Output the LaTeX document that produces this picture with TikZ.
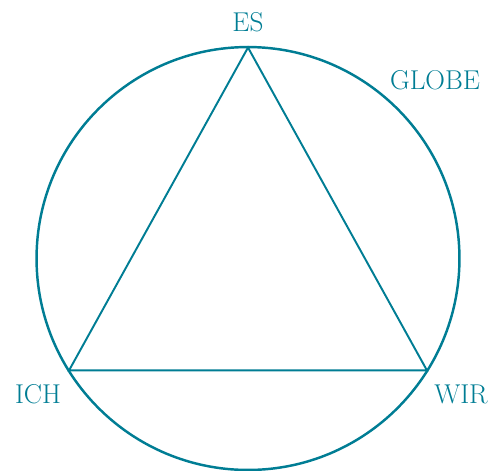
\documentclass[tikz,border=0pt]{standalone}
\usepackage{tikz}
\usetikzlibrary{positioning, calc}
\definecolor{globeteal}{RGB}{0,125,148}

\begin{document}
\begin{tikzpicture}[
    x=0.02cm, y=-0.02cm,
    lbl/.style={text=globeteal, font=\fontsize{15.5}{17}\selectfont, inner sep=0pt},
    rim/.style={draw=globeteal, line width=1.4pt},
    edge/.style={draw=globeteal, line width=1.1pt, line join=miter}
]
\useasboundingbox (0,0) rectangle (492,470);
\coordinate (c) at (248,258.5);
\draw[rim] (c) circle[radius=4.23cm];
\coordinate (es) at ($(c)+(90:4.22cm)$);
\coordinate (ich) at ($(c)+(212:4.22cm)$);
\coordinate (wir) at ($(c)+(-32:4.22cm)$);
\draw[edge] (es) -- (ich) -- (wir) -- cycle;
\node[lbl] (tes) at (248,22) {ES};
\node[lbl] (tglobe) at (435,80) {GLOBE};
\node[lbl] (tich) at (38,394) {ICH};
\node[lbl] (twir) at (461,394) {WIR};
\end{tikzpicture}
\end{document}
